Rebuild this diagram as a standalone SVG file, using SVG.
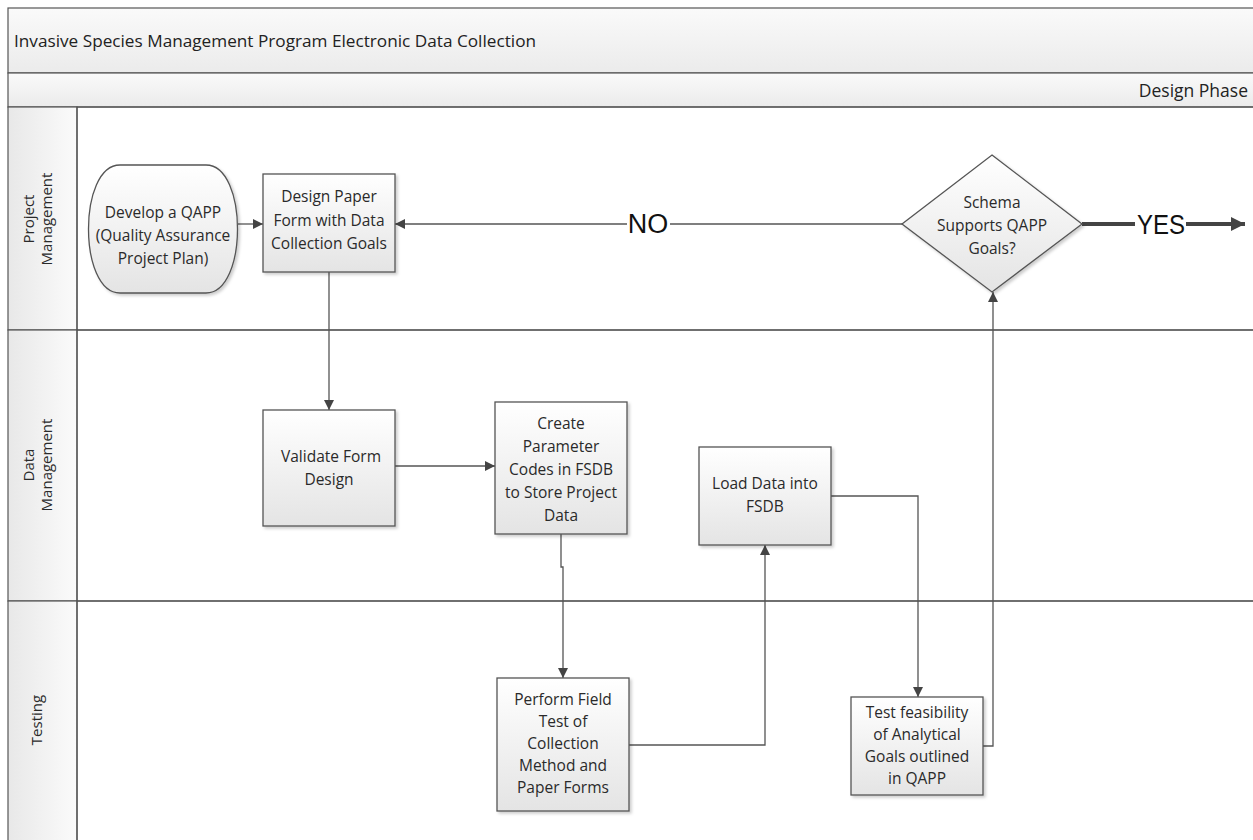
<svg xmlns="http://www.w3.org/2000/svg" width="1253" height="840" viewBox="0 0 1253 840">
<defs>
<linearGradient id="g" x1="0" y1="0" x2="0" y2="1"><stop offset="0" stop-color="#ffffff"/><stop offset="1" stop-color="#e4e4e4"/></linearGradient>
<linearGradient id="gh" x1="0" y1="0" x2="1" y2="0"><stop offset="0" stop-color="#e8e8e8"/><stop offset="1" stop-color="#fbfbfb"/></linearGradient>
<linearGradient id="gb" x1="0" y1="0" x2="0" y2="1"><stop offset="0" stop-color="#fafafa"/><stop offset="1" stop-color="#ebebeb"/></linearGradient>
<marker id="ah" viewBox="0 0 10 10" refX="10" refY="5" markerWidth="10" markerHeight="10" markerUnits="userSpaceOnUse" orient="auto"><path d="M0,0 L10,5 L0,10 z" fill="#444"/></marker>
<marker id="ahb" viewBox="0 0 10 10" refX="10" refY="5" markerWidth="14" markerHeight="14" markerUnits="userSpaceOnUse" orient="auto"><path d="M0,0 L10,5 L0,10 z" fill="#444"/></marker>
<filter id="sh" x="-10%" y="-10%" width="130%" height="130%"><feDropShadow dx="2" dy="2" stdDeviation="1.5" flood-color="#000" flood-opacity="0.2"/></filter>
</defs>
<style>
.box{fill:url(#g);stroke:#555;stroke-width:1.3;filter:url(#sh)}
.t{font-family:"Open Sans","Liberation Sans",sans-serif;font-size:15.5px;fill:#2a2a2a;text-anchor:middle}
.lane{fill:none;stroke:#555;stroke-width:1.2}
.c{fill:none;stroke:#555;stroke-width:1.3}
.big{font-family:"Liberation Sans",Arial,sans-serif;font-size:27px;fill:#111;text-anchor:middle}
</style>
<rect width="1253" height="840" fill="#fff"/>
<g id="pool">
<rect x="8" y="8" width="1260" height="65" fill="url(#gb)" stroke="#555" stroke-width="1.2"/>
<text x="14" y="47" style="font-family:'Open Sans','Liberation Sans',sans-serif;font-size:17.2px;fill:#222">Invasive Species Management Program Electronic Data Collection</text>
<rect x="8" y="73" width="1260" height="34" fill="url(#gb)" stroke="#555" stroke-width="1.2"/>
<text x="1248" y="97" style="font-family:'Open Sans','Liberation Sans',sans-serif;font-size:17.5px;fill:#222;text-anchor:end">Design Phase</text>
</g>
<g id="lane-pm">
<rect x="8" y="107" width="69" height="223" fill="url(#gh)" stroke="#555" stroke-width="1.2"/>
<rect x="77" y="107" width="1190" height="223" class="lane"/>
<text transform="translate(37,219) rotate(-90)" class="t" style="font-size:15px"><tspan x="0" y="-3">Project</tspan><tspan x="0" y="15">Management</tspan></text>
</g>
<g id="lane-dm">
<rect x="8" y="330" width="69" height="271" fill="url(#gh)" stroke="#555" stroke-width="1.2"/>
<rect x="77" y="330" width="1190" height="271" class="lane"/>
<text transform="translate(37,465) rotate(-90)" class="t" style="font-size:15px"><tspan x="0" y="-3">Data</tspan><tspan x="0" y="15">Management</tspan></text>
</g>
<g id="lane-t">
<rect x="8" y="601" width="69" height="260" fill="url(#gh)" stroke="#555" stroke-width="1.2"/>
<rect x="77" y="601" width="1190" height="260" class="lane"/>
<text transform="translate(37,720) rotate(-90)" class="t" style="font-size:15px"><tspan x="0" y="5">Testing</tspan></text>
</g>
<g id="connectors">
<path class="c" d="M238,224 H263" marker-end="url(#ah)"/>
<path class="c" d="M902,224 H670 M627,224 H395" marker-end="url(#ah)"/>
<text x="648" y="233" class="big">NO</text>
<path d="M1082,224 H1135" fill="none" stroke="#444" stroke-width="4"/>
<path d="M1186,224 H1245" fill="none" stroke="#444" stroke-width="4" marker-end="url(#ahb)"/>
<text x="1161" y="234" class="big" textLength="48" lengthAdjust="spacingAndGlyphs">YES</text>
<path class="c" d="M329,272 V410" marker-end="url(#ah)"/>
<path class="c" d="M395,466 H495" marker-end="url(#ah)"/>
<path class="c" d="M561,534 V567 H563 V678" marker-end="url(#ah)"/>
<path class="c" d="M629,745 H765 V545" marker-end="url(#ah)"/>
<path class="c" d="M831,496 H918 V697" marker-end="url(#ah)"/>
<path class="c" d="M983,746 H993 V292" marker-end="url(#ah)"/>
</g>
<g id="n-qapp">
<path class="box" d="M120,165 H206 C248,165 248,293 206,293 H120 C78,293 78,165 120,165 Z"/>
<text class="t"><tspan x="163" y="218">Develop a QAPP</tspan><tspan x="163" y="241">(Quality Assurance</tspan><tspan x="163" y="264">Project Plan)</tspan></text>
</g>
<g id="n-design">
<rect class="box" x="263" y="174" width="132" height="98"/>
<text class="t"><tspan x="329" y="202">Design Paper</tspan><tspan x="329" y="226">Form with Data</tspan><tspan x="329" y="249">Collection Goals</tspan></text>
</g>
<g id="n-schema">
<path class="box" d="M992,155 L1082,224 L992,292 L902,224 Z"/>
<text class="t"><tspan x="992" y="208">Schema</tspan><tspan x="992" y="231">Supports QAPP</tspan><tspan x="992" y="254">Goals?</tspan></text>
</g>
<g id="n-validate">
<rect class="box" x="263" y="410" width="132" height="116"/>
<text class="t"><tspan x="331" y="462">Validate Form</tspan><tspan x="329" y="485">Design</tspan></text>
</g>
<g id="n-create">
<rect class="box" x="495" y="402" width="132" height="132"/>
<text class="t"><tspan x="561" y="429">Create</tspan><tspan x="561" y="452">Parameter</tspan><tspan x="561" y="475">Codes in FSDB</tspan><tspan x="561" y="498">to Store Project</tspan><tspan x="561" y="521">Data</tspan></text>
</g>
<g id="n-load">
<rect class="box" x="699" y="447" width="132" height="98"/>
<text class="t"><tspan x="765" y="489">Load Data into</tspan><tspan x="765" y="512">FSDB</tspan></text>
</g>
<g id="n-field">
<rect class="box" x="497" y="678" width="132" height="133"/>
<text class="t"><tspan x="563" y="705">Perform Field</tspan><tspan x="563" y="727">Test of</tspan><tspan x="563" y="749">Collection</tspan><tspan x="563" y="771">Method and</tspan><tspan x="563" y="793">Paper Forms</tspan></text>
</g>
<g id="n-feas">
<rect class="box" x="851" y="697" width="132" height="98"/>
<text class="t"><tspan x="917" y="718">Test feasibility</tspan><tspan x="917" y="740">of Analytical</tspan><tspan x="917" y="762">Goals outlined</tspan><tspan x="917" y="784">in QAPP</tspan></text>
</g>
</svg>
